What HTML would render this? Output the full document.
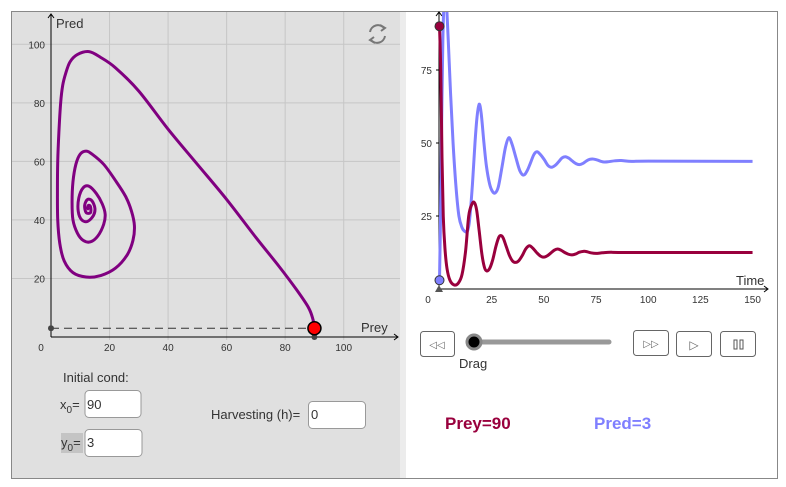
<!DOCTYPE html>
<html><head><meta charset="utf-8"><style>
body{margin:0;background:#fff;font-family:"Liberation Sans",Arial,sans-serif;}
svg{display:block}
text{font-family:"Liberation Sans",Arial,sans-serif}
</style></head><body>
<svg id="s" width="786" height="487" viewBox="0 0 786 487" xmlns="http://www.w3.org/2000/svg">
<rect x="0" y="0" width="786" height="487" fill="#fff"/>
<rect x="11.5" y="11.5" width="766" height="467" fill="#fff" stroke="#888"/>
<rect x="12" y="12" width="388" height="466" fill="#e0e0e0"/>
<rect x="400" y="12" width="6" height="466" fill="#ececec"/>
<g id="phase"></g>
<g id="ts"></g>
<g fill="none" stroke="#777" stroke-width="2">
<path d="M370 32 A8 8 0 0 1 384 28"/><path d="M385 36 A8 8 0 0 1 371 40"/>
<path d="M380 25 L385 28 L381 31" /><path d="M375 43 L370 40 L374 37"/>
</g>
<text x="63" y="382" font-size="13" fill="#333">Initial cond:</text>
<text x="60" y="409" font-size="13" fill="#333">x<tspan font-size="10" dy="4">0</tspan><tspan dy="-4">=</tspan></text>
<rect x="85" y="390.5" width="56" height="27" rx="4" fill="#fff" stroke="#999"/>
<text x="87" y="409" font-size="13" fill="#333">90</text>
<rect x="61" y="433" width="22" height="20" fill="#c4c4c4"/>
<text x="61" y="447" font-size="13" fill="#333">y<tspan font-size="10" dy="4">0</tspan><tspan dy="-4">=</tspan></text>
<rect x="85" y="429.5" width="57" height="27" rx="4" fill="#fff" stroke="#999"/>
<text x="87" y="447" font-size="13" fill="#333">3</text>
<text x="211" y="419" font-size="13" fill="#333">Harvesting (h)=</text>
<rect x="308.5" y="401.5" width="57" height="27" rx="4" fill="#fff" stroke="#999"/>
<text x="311" y="419" font-size="13" fill="#333">0</text>
<g><rect x="420.5" y="331.5" width="34" height="25" rx="3" fill="#fff" stroke="#666"/><text x="437" y="348" font-size="10" fill="#666" text-anchor="middle">◁◁</text></g>
<line x1="474" y1="342" x2="609" y2="342" stroke="#999" stroke-width="5" stroke-linecap="round"/>
<circle cx="474" cy="342" r="7" fill="#000" stroke="#888" stroke-width="3"/>
<text x="459" y="368" font-size="13" fill="#333">Drag</text>
<g><rect x="633.5" y="330.5" width="35" height="25" rx="3" fill="#fff" stroke="#666"/><text x="651" y="347" font-size="10" fill="#666" text-anchor="middle">▷▷</text></g>
<g><rect x="676.5" y="331.5" width="35" height="25" rx="3" fill="#fff" stroke="#666"/><text x="694" y="349" font-size="12" fill="#666" text-anchor="middle">▷</text></g>
<g><rect x="720.5" y="331.5" width="35" height="25" rx="3" fill="#fff" stroke="#666"/><rect x="734" y="340" width="3" height="9" fill="none" stroke="#555"/><rect x="740" y="340" width="3" height="9" fill="none" stroke="#555"/></g>
<text x="445" y="429" font-size="17" font-weight="bold" fill="#99003d">Prey=90</text>
<text x="594" y="429" font-size="17" font-weight="bold" fill="#7f7fff">Pred=3</text>
</svg>
<script>
// phase plot data (prey, pred)
const phasePrey=[90,89.5,88,84,78,70,60,50,40,30,22,17,13,9,6.5,5,4,3.3,2.7,2.3,2.2,2.3,3,4.5,7.5,12,17,22,26,28,28.5,27.5,25.5,22,18,14,12,10,8.5,7.5,7.2,7.5,9,11,13.5,16,18,18.5,17.5,15.5,13,11,9.5,9.3,10.5,12.5,14.5,15,14,12.5,11.5,12,13.5,13.5,12.8,12.5,13];
const phasePred=[3,6,10,16,24,34,47,59,71,84,92,95.5,97.5,96.5,94,90,86,80,70,60,50,40,32,26,22,20.5,21,23.5,28,33,38,43,48,53.5,59,62.5,63.5,62.5,59,53,46,40,35.5,33,32.5,34.5,38.5,42,45.5,49,51.5,51,47.5,43,40,39.5,41.5,44,46.5,47,45,42.5,42.5,44.5,45,44,43.5];
const phaseTicks=[20,40,60,80,100];
// time series data
const tPrey=[0,0.6,1.2,1.8,2.6,3.6,5,7,9,10.8,12.5,14,15.5,16.7,17.8,19,20.3,21.5,22.6,24,25.5,27,28.3,29.3,30.5,32,33.5,35,36.5,38,39.7,41.3,43,44.7,46.5,48.3,50,51.7,53.3,55,56.6,58.2,60,61.8,63.5,65.3,67,69,70.5,72.5,75,78,82,90,150];
const vPrey=[90,75,45,25,14,7,3,1.4,2,5,13,25,29,29.6,27,20,12,7.5,6.2,7,10,14.5,17.5,18.3,17.5,14.5,11.5,9.6,9.1,9.7,11.5,13.7,14.8,14,12.5,11.3,10.9,11.4,12.3,13.3,13.7,13.3,12.5,11.9,11.7,12,12.6,12.9,12.8,12.4,12.2,12.4,12.6,12.5,12.5];
const tPred=[0,0.5,1,1.6,2.3,3,4.2,5.3,6.5,7.9,9.3,10.8,12,13.2,14,14.6,15.8,17,18,19,20,21.3,22.5,24,25.3,26.7,28.2,30,31.6,33.2,34.8,36.6,38.5,40.3,42,43.5,45.2,46.7,48.4,50.2,52,53.7,55.4,57,58.7,60.3,62,63.7,65.5,67,68.7,70.3,72,73.7,75.5,77.5,79,81,84,87,92,100,150];
const vPred=[3,25,55,85,100,102,85,67,50,35,25,21,19.8,19.6,21.5,25,36,50,59,63.3,60,50,42,36,33.5,32.9,35,42,48.5,51.8,49.5,45,40.5,39,40.5,43,46,47,46,44.3,42.3,41.7,42.3,43.5,44.9,45.3,44.8,43.8,42.9,42.6,43,43.8,44.4,44.5,44.2,43.7,43.5,43.6,43.9,44,43.7,43.8,43.7];
const tsXTicks=[0,25,50,75,100,125,150];
const tsYTicks=[25,50,75];

const NS='http://www.w3.org/2000/svg';
function mk(tag,attrs,parent){const e=document.createElementNS(NS,tag);for(const k in attrs)e.setAttribute(k,attrs[k]);parent.appendChild(e);return e;}
function smooth(pts){let d='M'+pts[0][0].toFixed(2)+' '+pts[0][1].toFixed(2);
 for(let i=0;i<pts.length-1;i++){const p0=pts[Math.max(0,i-1)],p1=pts[i],p2=pts[i+1],p3=pts[Math.min(pts.length-1,i+2)];
  const c1=[p1[0]+(p2[0]-p0[0])/6,p1[1]+(p2[1]-p0[1])/6],c2=[p2[0]-(p3[0]-p1[0])/6,p2[1]-(p3[1]-p1[1])/6];
  d+=' C'+c1.map(v=>v.toFixed(2)).join(' ')+' '+c2.map(v=>v.toFixed(2)).join(' ')+' '+p2.map(v=>v.toFixed(2)).join(' ');}
 return d;}

const P=document.getElementById('phase');
const px=v=>51+v*2.927, py=v=>337-v*2.927;
phaseTicks.forEach(t=>{
 const gv=mk('line',{x1:px(t),y1:12,x2:px(t),y2:340,stroke:'#c6c6c6'},P);
 
 const gh=mk('line',{x1:12,y1:py(t),x2:400,y2:py(t),stroke:'#c6c6c6'},P);
 
 const xl=mk('text',{x:px(t),y:351,'font-size':10,'text-anchor':'middle',fill:'#333'},P);xl.textContent=t;
 
 const yl=mk('text',{x:45,y:py(t)+4,'font-size':10,'text-anchor':'end',fill:'#333'},P);yl.textContent=t;
 
});
let z=mk('text',{x:41,y:351,'font-size':10,'text-anchor':'middle',fill:'#333'},P);z.textContent='0';

let ax=mk('path',{d:'M51 337 H398 M394 334 L398 337 L394 340',stroke:'#000',fill:'none'},P);

let ay=mk('path',{d:'M51 337 V14 M48 18 L51 14 L54 18',stroke:'#000',fill:'none'},P);

let lx=mk('text',{x:361,y:332,'font-size':13,fill:'#333'},P);lx.textContent='Prey';

let ly=mk('text',{x:56,y:28,'font-size':13,fill:'#333'},P);ly.textContent='Pred';

const x0=phasePrey[0],y0=phasePred[0];
let dl=mk('line',{x1:px(0),y1:py(y0),x2:px(x0),y2:py(y0),stroke:'#333','stroke-dasharray':'8 5'},P);

let tr=mk('path',{d:smooth(phasePrey.map((v,i)=>[px(v),py(phasePred[i])])),stroke:'#800080','stroke-width':3,fill:'none','stroke-linejoin':'round'},P);

let d1=mk('circle',{cx:px(0),cy:py(y0),r:3,fill:'#444'},P);

let d2=mk('circle',{cx:px(x0),cy:py(0),r:3,fill:'#444'},P);

let sp=mk('circle',{cx:px(x0),cy:py(y0),r:6.5,fill:'#f00',stroke:'#000','stroke-width':1.5},P);


const T=document.getElementById('ts');
const tx=v=>439.5+v*2.087, ty=v=>289-v*2.92;
const cp=mk('clipPath',{id:'tsclip'},T);
mk('rect',{x:407,y:12,width:370,height:290},cp);
let tax=mk('path',{d:'M439 289 H768 M764 286 L768 289 L764 292',stroke:'#000',fill:'none'},T);

let tay=mk('path',{d:'M439 289 V12 M436 16 L439 12 L442 16',stroke:'#000',fill:'none'},T);

tsXTicks.forEach(t=>{const l=mk('text',{x:t===0?428:tx(t),y:303,'font-size':10,'text-anchor':'middle',fill:'#333'},T);l.textContent=t;
 });
tsYTicks.forEach(t=>{const l=mk('text',{x:432,y:ty(t)+4,'font-size':10,'text-anchor':'end',fill:'#333'},T);l.textContent=t;
 
 const k=mk('line',{x1:436,x2:439,y1:ty(t),y2:ty(t),stroke:'#000'},T);
 });
let tt=mk('text',{x:736,y:285,'font-size':13,fill:'#333'},T);tt.textContent='Time';

let lp=mk('path',{d:smooth(tPred.map((t,i)=>[tx(t),ty(vPred[i])])),stroke:'#7f7fff','stroke-width':3,fill:'none','clip-path':'url(#tsclip)'},T);

let lr=mk('path',{d:smooth(tPrey.map((t,i)=>[tx(t),ty(vPrey[i])])),stroke:'#99003d','stroke-width':3,fill:'none','clip-path':'url(#tsclip)'},T);

let tri=mk('path',{d:'M435 292 L439 285 L443 292 Z',fill:'#555'},T);

let rp=mk('circle',{cx:tx(0),cy:ty(vPrey[0]),r:4.5,fill:'#99003d',stroke:'#333'},T);

let bp=mk('circle',{cx:tx(0),cy:ty(vPred[0]),r:4.5,fill:'#7f7fff',stroke:'#333'},T);

</script>
</body></html>
